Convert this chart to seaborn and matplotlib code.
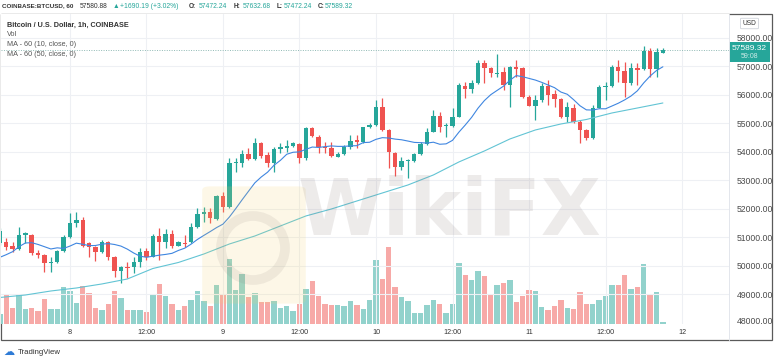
import numpy as np
import pandas as pd
import matplotlib
matplotlib.use('Agg')
import matplotlib.pyplot as plt
import matplotlib.dates as mdates
from matplotlib.patches import Rectangle, FancyBboxPatch, Ellipse
from matplotlib.transforms import Bbox, TransformedBbox
import seaborn as sns

# --------------------------
# Data (hourly BTCUSD, Coinbase), first bar 2021-03-07 13:00
# --------------------------
start = '2021-03-07 13:00'

opens = [50806, 50852, 50701, 50596, 51087, 51087, 50466, 50385, 50094, 50150, 50536,
         51006, 51518, 51613, 50817, 50676, 50501, 50852, 50325, 49834, 49975, 49953, 50150,
         50536, 50325, 51052, 50831, 51122, 50711, 50796, 50852, 51357, 51824, 51904, 51659,
         52455, 52059, 53624, 53624, 53929, 53754, 54315, 53894, 53603, 54094, 54150, 54210,
         54280, 53778, 54831, 54536, 54164, 54129, 53835, 53929, 54164, 54410, 54351, 54866,
         54947, 55589, 54772, 53975, 53483, 53690, 53694, 53929, 54270, 54712, 55263, 54900,
         54912, 55238, 56326, 56200, 56410, 57133, 56936, 56750, 56817, 56350, 56971, 56936,
         55940, 55624, 55824, 56326, 56024, 55859, 55238, 55554, 55063, 54772, 54501, 55554,
         56280, 56300, 56971, 56842, 56410, 56936, 56901, 57554, 56901, 57472.24]
highs = [51333, 50982, 50852, 51378, 51203, 51130, 50560, 50420, 50315, 50560, 51087,
         51859, 51904, 51729, 50830, 50700, 50912, 50880, 50340, 49990, 50150, 50325, 50620,
         50631, 51122, 51322, 51287, 51263, 50860, 51087, 51497, 52024, 52080, 52024, 52480,
         52606, 53778, 53778, 54070, 54129, 54480, 54340, 54010, 54185, 54326, 54421, 54365,
         54310, 54860, 54890, 54596, 54365, 54365, 54010, 54245, 54596, 54596, 54890, 55007,
         55824, 55884, 54800, 54000, 53835, 53740, 53950, 54365, 54831, 55474, 55420, 55007,
         55533, 56410, 56466, 56526, 57228, 57228, 56990, 57438, 56990, 57000, 57228, 56990,
         56000, 55999, 56410, 56526, 56175, 55880, 55764, 55700, 55123, 54800, 55649, 56350,
         56466, 57052, 57228, 57168, 57110, 57110, 57729, 57640, 57640, 57632.68]
lows = [50736, 50560, 50501, 50560, 50806, 50385, 50280, 49799, 49799, 50120, 50500,
        50980, 51378, 50680, 50325, 50175, 50470, 50210, 49613, 49392, 49578, 49743, 49975,
        50210, 50300, 50210, 50620, 50620, 50690, 50676, 50820, 51330, 51554, 51497, 51630,
        51904, 52030, 53308, 53483, 53720, 53730, 53778, 53462, 53308, 53975, 54010, 54185,
        53603, 53719, 54530, 53954, 53954, 53835, 53810, 53894, 54094, 54129, 54330, 54850,
        54920, 54750, 53427, 53157, 53368, 53076, 53660, 53900, 54250, 54690, 54712, 54536,
        54890, 55210, 55884, 56060, 56390, 56410, 56642, 56642, 56175, 55589, 56642, 55900,
        55600, 55123, 55750, 55649, 55589, 55180, 55063, 55007, 54305, 54421, 54466, 55530,
        55824, 56280, 56466, 55940, 56350, 56350, 56880, 56642, 56642, 57472.24]
closes = [51227, 50676, 50596, 51087, 51157, 50445, 50385, 50115, 50150, 50525, 51006,
          51518, 51613, 50701, 50676, 50490, 50852, 50325, 49824, 49964, 49940, 50150, 50501,
          50325, 51052, 50852, 51122, 50701, 50831, 50771, 51357, 51813, 51904, 51673, 52455,
          52059, 53603, 53659, 53929, 53754, 54326, 53859, 53603, 54094, 54164, 54210, 54305,
          53778, 54831, 54561, 54185, 54140, 53859, 53929, 54164, 54396, 54361, 54866, 54947,
          55589, 54772, 54010, 53483, 53694, 53719, 53919, 54270, 54712, 55263, 54866, 54912,
          55238, 56350, 56210, 56410, 57133, 56936, 56782, 56770, 56350, 56971, 56901, 55940,
          55624, 55824, 56326, 56000, 55859, 55238, 55568, 55063, 54772, 54501, 55554, 56291,
          56300, 56971, 56842, 56410, 56936, 56888, 57554, 56901, 57498, 57589.32]
volumes = [400, 1200, 620, 1200, 600, 620, 500, 970, 570, 570, 1460,
           1300, 840, 1490, 1220, 640, 530, 780, 1300, 1020, 560, 560, 550,
           470, 1170, 1600, 1120, 800, 560, 700, 960, 1320, 920, 720, 1560,
           1200, 2600, 1360, 2000, 1080, 1240, 880, 860, 920, 620, 720, 520,
           800, 1400, 1700, 1090, 770, 730, 760, 690, 920, 760, 600, 960,
           2560, 1800, 3060, 1460, 1060, 890, 440, 440, 760, 930, 770, 440,
           790, 2420, 1960, 1760, 2100, 1890, 1200, 1560, 1640, 1730, 860, 1090,
           1360, 1320, 670, 560, 720, 960, 630, 600, 1250, 790, 790, 960,
           1120, 1560, 1560, 1960, 1390, 1470, 2400, 1200, 1250, 50]

# MA(10) for the first bars, where the window reaches before the visible data
ma10_head = [50304, 50396, 50501, 50676, 50806, 50817, 50754, 50676, 50596]

# MA(50) every 4 hours (hours after start)
ma50_hours = [0, 4, 8, 12, 16, 20, 24, 28, 32, 36, 40, 44, 48, 52, 56, 60, 64, 68, 72,
              76, 80, 84, 88, 92, 96, 100, 104]
ma50_vals = [48894, 48981, 49122, 49227, 49368, 49543, 49911, 50122, 50420, 50771, 51052,
             51403, 51754, 51999, 52280, 52561, 52841, 53193, 53649, 54035, 54456, 54772,
             54982, 55140, 55368, 55543, 55719]

price_ticks = list(range(49000, 58001, 1000))
time_ticks = pd.date_range('2021-03-08', '2021-03-12', freq='12h')
time_labels = ['8', '12:00', '9', '12:00', '10', '12:00', '11', '12:00', '12']

# --------------------------
# Prepare frame
# --------------------------
df = pd.DataFrame({'time': pd.date_range(start, periods=len(closes), freq='h'),
                   'open': opens, 'high': highs, 'low': lows, 'close': closes,
                   'volume': volumes})
df['x'] = mdates.date2num(df['time'])
up = (df['close'] >= df['open']).values
df['ma10'] = df['close'].rolling(10).mean()
df.loc[:len(ma10_head) - 1, 'ma10'] = ma10_head

ma50 = pd.DataFrame({'time': pd.Timestamp(start) + pd.to_timedelta(ma50_hours, unit='h'),
                     'ma50': ma50_vals})
ma50['x'] = mdates.date2num(ma50['time'])

GREEN, RED = '#26a69a', '#ef5350'
VGREEN, VRED = '#92d2cc', '#f7a9a7'

# --------------------------
# Figure
# --------------------------
sns.set_style('white')
plt.rcParams['font.family'] = ['Liberation Sans', 'DejaVu Sans']

W, H = 775, 361
fig = plt.figure(figsize=(W / 100, H / 100), dpi=100, facecolor='white')


def fx(px):
    return px / W


def fy(py):
    return 1 - py / H


rect = [fx(1), fy(323.5), fx(729) - fx(1), fy(13.5) - fy(323.5)]
axv = fig.add_axes(rect)
ax = fig.add_axes(rect, sharex=axv)
axv.set_zorder(1)
ax.set_zorder(2)
ax.patch.set_visible(False)

hour = 1 / 24

# volume
axv.bar(df['x'], df['volume'], width=0.84 * hour,
        color=np.where(up, VGREEN, VRED), linewidth=0)
axv.set_ylim(0, 12400)
axv.set_yticks([])
axv.tick_params(axis='x', length=0, labelbottom=False)

# grid
ax.set_axisbelow(True)
ax.grid(True, color='#eef0f4', linewidth=0.8)

# candles
colors = np.where(up, GREEN, RED)
ax.vlines(df['x'], df['low'], df['high'], colors=colors, linewidth=0.9, zorder=3)
body_lo = np.minimum(df['open'], df['close'])
body_h = np.maximum((df['close'] - df['open']).abs(), 30)
ax.bar(df['x'], body_h, width=0.7 * hour, bottom=body_lo, color=colors,
       linewidth=0, zorder=4)

# moving averages
sns.lineplot(x=df['x'], y=df['ma10'], ax=ax, color='#3f86e0', linewidth=0.8, zorder=5)
sns.lineplot(x=ma50['x'], y=ma50['ma50'], ax=ax, color='#62c4d4', linewidth=0.8, zorder=5)

# last price line
ax.axhline(closes[-1], color='#8fb9b4', linestyle=(0, (1, 1.5)), linewidth=0.7, zorder=2)

x0 = mdates.date2num(pd.Timestamp('2021-03-08'))
ax.set_xlim(x0 - 10.82 * hour, x0 + 103.37 * hour)
ax.set_ylim(47981, 58859)

ax.set_xticks(mdates.date2num(time_ticks))
ax.set_xticklabels(time_labels)
ax.yaxis.tick_right()
ax.set_yticks(price_ticks)
ax.set_yticklabels([f'{v}.00' for v in price_ticks])
ax.tick_params(axis='y', length=0, pad=5.8, labelsize=6.2, labelcolor='#4a4a4a')
ax.tick_params(axis='x', length=0, pad=4.2, labelsize=5.2, labelcolor='#333333')
ax.set_xlabel('')
ax.set_ylabel('')
for a in (ax, axv):
    for s in a.spines.values():
        s.set_visible(False)

# 48000 label, clipped by the time scale
t48 = fig.text(fx(737), fy(322), '48000.00', fontsize=6.2, color='#4a4a4a',
               ha='left', va='center')
t48.set_clip_box(TransformedBbox(Bbox([[fx(729), fy(323.5)], [1, 1]]), fig.transFigure))

# frame and separators
fig.add_artist(Rectangle((fx(1), fy(340)), fx(772) - fx(1), fy(13.5) - fy(340),
                         transform=fig.transFigure, fill=False, edgecolor='#5a5a5a',
                         linewidth=0.9))
fig.add_artist(plt.Line2D([fx(729), fx(729)], [fy(13.5), fy(340)],
                          transform=fig.transFigure, color='#e3e6ec', linewidth=0.7))

# header
hy = fy(6)
hdr = [(2, 'COINBASE:BTCUSD, 60', '#333333', 'bold', 4.5),
       (79.5, '57580.88', '#333333', 'normal', 4.9),
       (113, '\u25b2', GREEN, 'normal', 4.9),
       (120.5, '+1690.19 (+3.02%)', GREEN, 'normal', 4.9),
       (189, 'O:', '#333333', 'bold', 4.7),
       (198.5, '57472.24', GREEN, 'normal', 4.9),
       (234, 'H:', '#333333', 'bold', 4.7),
       (242.5, '57632.68', GREEN, 'normal', 4.9),
       (277, 'L:', '#333333', 'bold', 4.7),
       (284, '57472.24', GREEN, 'normal', 4.9),
       (317.5, 'C:', '#333333', 'bold', 4.7),
       (325, '57589.32', GREEN, 'normal', 4.9)]
for px, txt, col, wt, fs in hdr:
    fig.text(fx(px), hy, txt, fontsize=fs, color=col, fontweight=wt,
             ha='left', va='center')

# legend block
fig.text(fx(7), fy(25), 'Bitcoin / U.S. Dollar, 1h, COINBASE', fontsize=5.2,
         fontweight='bold', color='#333333', ha='left', va='center')
for py, txt in [(34.5, 'Vol'), (44.5, 'MA - 60 (10, close, 0)'),
                (54.5, 'MA - 60 (50, close, 0)')]:
    fig.text(fx(7), fy(py), txt, fontsize=5.2, color='#555555', ha='left', va='center')

# USD badge
fig.add_artist(FancyBboxPatch((fx(742), fy(28)), fx(15), fy(19) - fy(28),
                              boxstyle='round,pad=0.002', transform=fig.transFigure,
                              facecolor='white', edgecolor='#cfd3da', linewidth=0.6))
fig.text(fx(749.5), fy(23.5), 'USD', fontsize=4.8, color='#333333', ha='center', va='center')

# last price badges
fig.add_artist(Rectangle((fx(697), fy(53.5)), fx(30), fy(43.5) - fy(53.5),
                         transform=fig.transFigure, color=GREEN, linewidth=0))
fig.text(fx(712), fy(48.5), 'BTCUSD', fontsize=5, color='white', ha='center', va='center')
fig.add_artist(Rectangle((fx(729), fy(62)), fx(41), fy(42) - fy(62),
                         transform=fig.transFigure, color=GREEN, linewidth=0))
fig.text(fx(749.5), fy(48), '57589.32', fontsize=6, color='white', ha='center', va='center')
fig.text(fx(749.5), fy(57), '59:08', fontsize=5, color='#cdebe7', ha='center', va='center')

# watermark
fig.add_artist(FancyBboxPatch((fx(210), fy(300)), fx(88), fy(190) - fy(300),
                              boxstyle='round,pad=0.01', transform=fig.transFigure,
                              facecolor='#f5d36a', edgecolor='none', alpha=0.16, zorder=10))
fig.add_artist(Ellipse((fx(253), fy(248)), fx(64), 64 / H, transform=fig.transFigure,
                       facecolor='none', edgecolor='#8a7f7a', linewidth=7, alpha=0.12,
                       zorder=10))
fig.text(fx(450), fy(212), 'WikiFX', fontsize=56, fontweight='bold', color='#968a88',
         alpha=0.17, ha='center', va='center', zorder=10,
         family=['DejaVu Sans'])

# footer
fig.text(fx(3), fy(352), '\u2601', fontsize=8, color='#2e7bd6', ha='left', va='center',
         family=['DejaVu Sans'])
fig.text(fx(17.5), fy(352), 'TradingView', fontsize=5.6, color='#333333',
         ha='left', va='center')

fig.savefig('out.png', dpi=100, facecolor='white')
